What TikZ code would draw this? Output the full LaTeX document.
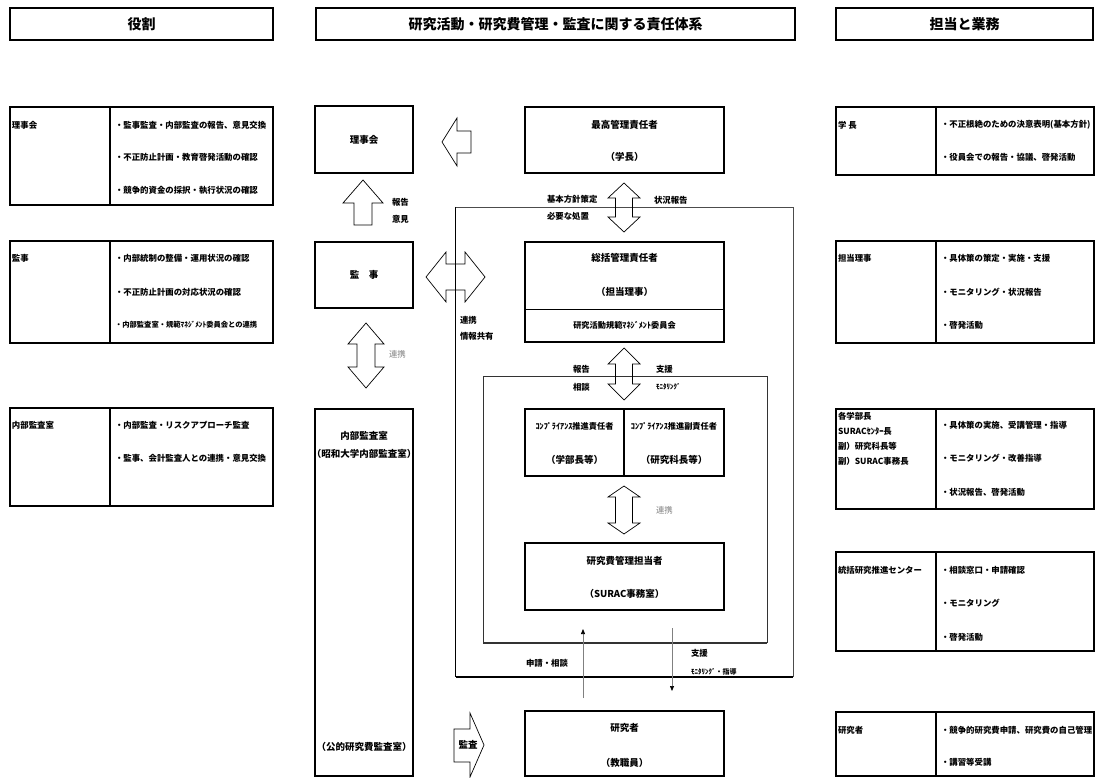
\documentclass[tikz,border=0pt]{standalone}
\usepackage{fontspec}
\setmainfont{Noto Sans CJK JP}
\usetikzlibrary{arrows.meta,calc}

% double block arrow, vertical: x, top tip, bottom tip, head half width, shaft half width, head length
\newcommand\dblV[6]{%
  \draw[blk] (#1,#2) -- ({#1+#4},{#2+#6}) -- ({#1+#5},{#2+#6}) -- ({#1+#5},{#3-#6})
    -- ({#1+#4},{#3-#6}) -- (#1,#3) -- ({#1-#4},{#3-#6}) -- ({#1-#5},{#3-#6})
    -- ({#1-#5},{#2+#6}) -- ({#1-#4},{#2+#6}) -- cycle;}
% double block arrow, horizontal: y, left tip, right tip, head half width, shaft half width, head length
\newcommand\dblH[6]{%
  \draw[blk] (#2,#1) -- ({#2+#6},{#1-#4}) -- ({#2+#6},{#1-#5}) -- ({#3-#6},{#1-#5})
    -- ({#3-#6},{#1-#4}) -- (#3,#1) -- ({#3-#6},{#1+#4}) -- ({#3-#6},{#1+#5})
    -- ({#2+#6},{#1+#5}) -- ({#2+#6},{#1+#4}) -- cycle;}

\tikzset{
  every node/.style={inner sep=0pt, outer sep=0pt},
  cell/.style={draw=black, line width=1.2pt, anchor=north west, inner sep=0pt},
  hd/.style={font=\fontsize{14}{16}\selectfont\bfseries},
  ct/.style={font=\fontsize{9.5}{11}\selectfont\bfseries},
  cs/.style={font=\fontsize{8.2}{10}\selectfont\bfseries},
  tx/.style={font=\fontsize{8.4}{10}\selectfont\bfseries, anchor=west},
  txs/.style={font=\fontsize{7.3}{9}\selectfont\bfseries, anchor=west},
  lbl/.style={font=\fontsize{8.4}{10}\selectfont\bfseries, anchor=west},
  lbls/.style={font=\fontsize{7}{9}\selectfont\bfseries, anchor=west},
  gl/.style={font=\fontsize{8.4}{10}\selectfont, anchor=west, text=gray},
  blk/.style={draw=black, line width=0.7pt, line join=miter},
  tarrow/.style={draw=gray, line width=0.7pt, -{Triangle[length=5pt,width=4pt,color=black]}},
}

\begin{document}
\begin{tikzpicture}[x=1pt,y=-1pt]
\useasboundingbox (0,0) rectangle (1100,778);

% ---------- headers ----------
\node[cell, hd, minimum width=263pt, minimum height=32pt] (hL) at (10,8) {役割};
\node[cell, hd, minimum width=479pt, minimum height=32pt] (hC) at (316,8) {研究活動・研究費管理・監査に関する責任体系};
\node[cell, hd, minimum width=257pt, minimum height=32pt] (hR) at (836,8) {担当と業務};

% ---------- left column: roles ----------
\node[cell, minimum width=100pt, minimum height=98pt] (l1a) at (10,107) {};
\node[cell, minimum width=163pt, minimum height=98pt] (l1b) at (110,107) {};
\node[tx] (l1t) at (12,125) {理事会};
\node[tx] (l1i1) at (115,125) {・監事監査・内部監査の報告、意見交換};
\node[tx] (l1i2) at (115,157) {・不正防止計画・教育啓発活動の確認};
\node[tx] (l1i3) at (115,190) {・競争的資金の採択・執行状況の確認};

\node[cell, minimum width=100pt, minimum height=102pt] (l2a) at (10,241) {};
\node[cell, minimum width=163pt, minimum height=102pt] (l2b) at (110,241) {};
\node[tx] (l2t) at (12,258) {監事};
\node[tx] (l2i1) at (115,258) {・内部統制の整備・運用状況の確認};
\node[tx] (l2i2) at (115,292) {・不正防止計画の対応状況の確認};
\node[txs] (l2i3) at (115,325) {・内部監査室・規範ﾏﾈｼﾞﾒﾝﾄ委員会との連携};

\node[cell, minimum width=100pt, minimum height=98pt] (l3a) at (10,408) {};
\node[cell, minimum width=163pt, minimum height=98pt] (l3b) at (110,408) {};
\node[tx] (l3t) at (12,425) {内部監査室};
\node[tx] (l3i1) at (115,425) {・内部監査・リスクアプローチ監査};
\node[tx] (l3i2) at (115,458) {・監事、会計監査人との連携・意見交換};

% ---------- right column: duties ----------
\node[cell, minimum width=100pt, minimum height=68pt] (r1a) at (836,107) {};
\node[cell, minimum width=158pt, minimum height=68pt] (r1b) at (936,107) {};
\node[tx] (r1t) at (838,125) {学 長};
\node[tx] (r1i1) at (941,125) {・不正根絶のための決意表明(基本方針)};
\node[tx] (r1i2) at (941,157) {・役員会での報告・協議、啓発活動};

\node[cell, minimum width=100pt, minimum height=102pt] (r2a) at (836,241) {};
\node[cell, minimum width=158pt, minimum height=102pt] (r2b) at (936,241) {};
\node[tx] (r2t) at (838,258) {担当理事};
\node[tx] (r2i1) at (941,258) {・具体策の策定・実施・支援};
\node[tx] (r2i2) at (941,292) {・モニタリング・状況報告};
\node[tx] (r2i3) at (941,325) {・啓発活動};

\node[cell, minimum width=100pt, minimum height=100pt] (r3a) at (836,409) {};
\node[cell, minimum width=158pt, minimum height=100pt] (r3b) at (936,409) {};
\node[tx] (r3t1) at (838,416) {各学部長};
\node[tx] (r3t2) at (838,431) {SURACｾﾝﾀｰ長};
\node[tx] (r3t3) at (838,446) {副）研究科長等};
\node[tx] (r3t4) at (838,461) {副）SURAC事務長};
\node[tx] (r3i1) at (941,425) {・具体策の実施、受講管理・指導};
\node[tx] (r3i2) at (941,458) {・モニタリング・改善指導};
\node[tx] (r3i3) at (941,492) {・状況報告、啓発活動};

\node[cell, minimum width=100pt, minimum height=99pt] (r4a) at (836,552) {};
\node[cell, minimum width=158pt, minimum height=99pt] (r4b) at (936,552) {};
\node[tx] (r4t) at (838,570) {統括研究推進センター};
\node[tx] (r4i1) at (941,570) {・相談窓口・申請確認};
\node[tx] (r4i2) at (941,603) {・モニタリング};
\node[tx] (r4i3) at (941,637) {・啓発活動};

\node[cell, minimum width=100pt, minimum height=64pt] (r5a) at (836,712) {};
\node[cell, minimum width=158pt, minimum height=64pt] (r5b) at (936,712) {};
\node[tx] (r5t) at (838,730) {研究者};
\node[tx] (r5i1) at (941,730) {・競争的研究費申請、研究費の自己管理};
\node[tx] (r5i2) at (941,762) {・講習等受講};

% ---------- centre: responsibility system ----------
% outer frame (general manager's area)
\coordinate (oNW) at (455.5,207);
\coordinate (oNE) at (793,207);
\coordinate (oSW) at (455.5,677);
\coordinate (oSE) at (793,677);
\draw[black, line width=0.9pt] (oNW) -- (oSW);
\draw[gray!60!black, line width=0.9pt] (oNW) -- (oNE) -- (oSE);
\draw[black, line width=1.8pt] (oSW) -- (oSE);

% inner frame (compliance area)
\coordinate (iNW) at (483,376);
\coordinate (iNE) at (767,376);
\coordinate (iSW) at (483,643);
\coordinate (iSE) at (767,643);
\draw[black!80, line width=0.9pt] (iSW) -- (iNW) -- (iNE) -- (iSE);
\draw[black!80, line width=1.3pt] (iSW) -- (iSE);

% boxes
\node[cell, minimum width=98pt, minimum height=67pt] (riji) at (315,106) {};
\node[ct] (rijiT) at (riji.center) {理事会};
\node[cell, minimum width=98pt, minimum height=66pt] (kanji) at (315,242) {};
\node[ct] (kanjiT) at (kanji.center) {監　事};
\node[cell, minimum width=98pt, minimum height=367pt] (naibu) at (315,409) {};
\node[ct] (naibuT1) at (364,436) {内部監査室};
\node[ct] (naibuT2) at (364,454) {（昭和大学内部監査室）};
\node[ct] (naibuT3) at (364,747) {（公的研究費監査室）};

\node[cell, minimum width=199pt, minimum height=66pt] (saiko) at (525,107) {};
\node[ct] (saikoT1) at ($(saiko.north)+(0,18)$) {最高管理責任者};
\node[ct] (saikoT2) at ($(saiko.north)+(0,50)$) {（学長）};

\node[cell, minimum width=199pt, minimum height=100pt] (sokatsu) at (525,242) {};
\draw[black, line width=0.8pt] (525,309) -- (724,309);
\node[ct] (sokatsuT1) at ($(sokatsu.north)+(0,16)$) {総括管理責任者};
\node[ct] (sokatsuT2) at ($(sokatsu.north)+(0,50)$) {（担当理事）};
\node[cs] (sokatsuT3) at ($(sokatsu.north)+(0,83)$) {研究活動規範ﾏﾈｼﾞﾒﾝﾄ委員会};

\node[cell, minimum width=99pt, minimum height=67pt] (compA) at (525,409) {};
\node[cell, minimum width=100pt, minimum height=67pt] (compB) at (624,409) {};
\node[cs] (compA1) at ($(compA.north)+(0,17)$) {ｺﾝﾌﾟﾗｲｱﾝｽ推進責任者};
\node[ct] (compA2) at ($(compA.north)+(0,51)$) {（学部長等）};
\node[cs] (compB1) at ($(compB.north)+(0,17)$) {ｺﾝﾌﾟﾗｲｱﾝｽ推進副責任者};
\node[ct] (compB2) at ($(compB.north)+(0,51)$) {（研究科長等）};

\node[cell, minimum width=199pt, minimum height=67pt] (hikanri) at (525,543) {};
\node[ct] (hikanriT1) at ($(hikanri.north)+(0,18)$) {研究費管理担当者};
\node[ct] (hikanriT2) at ($(hikanri.north)+(0,51)$) {（SURAC事務室）};

\node[cell, minimum width=199pt, minimum height=65pt] (kenkyu) at (525,711) {};
\node[ct] (kenkyuT1) at ($(kenkyu.north)+(0,17)$) {研究者};
\node[ct] (kenkyuT2) at ($(kenkyu.north)+(0,52)$) {（教職員）};

% block arrows
% president -> board
\draw[blk] (442,142) -- (457,118) -- (457,131) -- (471,131) -- (471,153) -- (457,153) -- (457,166) -- cycle;
% auditor -> board (report / opinion)
\draw[blk] (363,180) -- (383,203) -- (372,203) -- (372,225) -- (354,225) -- (354,203) -- (343,203) -- cycle;
\node[lbl] (hokoku1) at (392,202) {報告};
\node[lbl] (iken1) at (392,219) {意見};
% president <-> general manager
\dblV{624}{183}{232}{16}{8.5}{15}
\node[lbl] (kihon) at (547,199) {基本方針策定};
\node[lbl] (hitsuyo) at (547,216) {必要な処置};
\node[lbl] (jokyo) at (654,200) {状況報告};
% auditor <-> general manager
\dblH{277}{426}{485}{25}{13}{20}
\node[lbl] (renkei1) at (460,320) {連携};
\node[lbl] (joho) at (460,336) {情報共有};
% auditor <-> internal audit office
\dblV{366}{323}{388}{18}{9}{21}
\node[gl] (renkei2) at (389,354) {連携};
% general manager <-> compliance area
\dblV{624}{348}{400}{16}{8.5}{16}
\node[lbl] (hokoku2) at (573,369) {報告};
\node[lbl] (sodan1) at (573,387) {相談};
\node[lbl] (shien1) at (656,369) {支援};
\node[lbls] (moni1) at (656,387) {ﾓﾆﾀﾘﾝｸﾞ};
% compliance officers <-> fund manager
\dblV{624}{486}{534}{16}{8.5}{11}
\node[gl] (renkei3) at (656,510) {連携};
% internal audit office -> researchers
\draw[blk] (484,745) -- (470,777) -- (470,762) -- (454,762) -- (454,729) -- (470,729) -- (470,713) -- cycle;
\node[ct] (kansa) at (468,745) {監査};

% thin arrows between researchers and fund manager
\draw[tarrow] ($(kenkyu.north)+(-41.5,-13)$) -- ($(hikanri.south)+(-41.5,19)$);
\draw[tarrow] ($(hikanri.south)+(47.5,18)$) -- ($(kenkyu.north)+(47.5,-20)$);
\node[lbl, anchor=center] (shinsei) at (547,663) {申請・相談};
\node[lbl] (shien2) at (691,653) {支援};
\node[lbls] (moni2) at (691,672) {ﾓﾆﾀﾘﾝｸﾞ・指導};
\end{tikzpicture}
\end{document}
